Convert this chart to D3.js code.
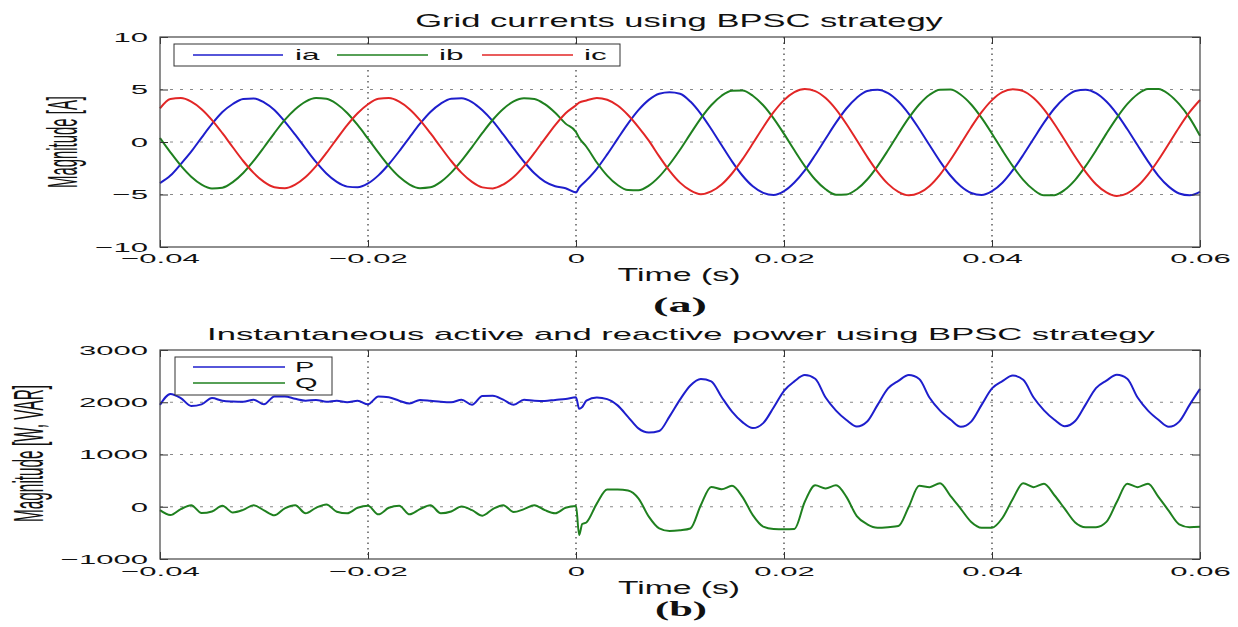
<!DOCTYPE html>
<html><head><meta charset="utf-8">
<script src="https://cdn.jsdelivr.net/npm/d3@7"></script>
<style>body{margin:0;background:#fff}</style>
</head><body><svg id="c" width="1238" height="627" style="background:#fff"></svg>
<script>
// ---- data ----
const time = d3.range(101).map(i => +(-0.04 + i * 0.001).toFixed(4));
const curExtraT = [0.0003];
const ia = [-3.92,-3.2,-2.1,-0.92,0.42,1.72,2.85,3.62,4.1,4.15,
 3.78,3.05,1.95,0.7,-0.62,-1.9,-3.0,-3.8,-4.25,-4.32,
 -3.95,-3.18,-2.12,-0.88,0.45,1.74,2.86,3.66,4.12,4.16,
 3.8,3.02,1.98,0.72,-0.6,-1.88,-2.98,-3.78,-4.22,-4.4,
 -4.8,
 -3.66,-2.55,-1.18,0.3,1.75,3.03,4.01,4.6,4.74,4.6,
 3.85,2.68,1.24,-0.31,-1.84,-3.19,-4.22,-4.84,-5.05,-4.68,
 -3.85,-2.7,-1.24,0.31,1.84,3.19,4.22,4.86,4.98,4.65,
 3.85,2.68,1.24,-0.31,-1.84,-3.19,-4.22,-4.86,-5.05,-4.68,
 -3.88,-2.68,-1.24,0.31,1.84,3.19,4.22,4.86,4.98,4.65,
 3.85,2.68,1.24,-0.31,-1.84,-3.22,-4.25,-4.9,-5.08,-4.75];
const iaExtra = [-4.35];
const ib = [0.38,-0.98,-2.25,-3.3,-4.05,-4.42,-4.35,-3.82,-2.95,-1.8,
 -0.5,0.85,2.1,3.12,3.85,4.18,4.12,3.62,2.76,1.62,
 0.32,-1.02,-2.28,-3.32,-4.05,-4.4,-4.32,-3.8,-2.92,-1.78,
 -0.48,0.86,2.12,3.15,3.86,4.16,4.1,3.6,2.78,1.75,
 0.95,
 -0.45,-1.95,-3.2,-4.1,-4.58,-4.6,-4.16,-3.3,-2.12,-0.74,
 0.77,2.25,3.5,4.41,4.89,4.9,4.41,3.5,2.25,0.77,
 -0.79,-2.29,-3.57,-4.5,-5.02,-5.0,-4.5,-3.57,-2.29,-0.79,
 0.79,2.29,3.57,4.5,4.98,4.99,4.5,3.57,2.29,0.79,
 -0.8,-2.3,-3.6,-4.55,-5.08,-5.06,-4.55,-3.6,-2.3,-0.8,
 0.8,2.3,3.6,4.55,5.05,5.05,4.55,3.6,2.3,0.6];
const ibExtra = [0.4];
const ic = [3.2,4.1,4.18,3.85,3.13,2.09,0.84,-0.5,-1.81,-2.94,
 -3.8,-4.3,-4.4,-4.05,-3.33,-2.29,-1.04,0.3,1.61,2.74,
 3.6,4.12,4.18,3.85,3.13,2.09,0.84,-0.5,-1.81,-2.94,
 -3.8,-4.32,-4.42,-4.05,-3.33,-2.29,-1.04,0.3,1.61,2.74,
 3.5,
 3.95,4.2,4.03,3.47,2.57,1.42,0.13,-1.37,-2.75,-3.87,
 -4.61,-4.98,-4.71,-4.05,-3.0,-1.66,-0.15,1.41,2.84,3.99,
 4.75,5.05,4.85,4.18,3.1,1.71,0.16,-1.41,-2.84,-3.99,
 -4.75,-5.08,-4.85,-4.18,-3.1,-1.71,-0.16,1.41,2.84,3.99,
 4.75,5.02,4.85,4.18,3.1,1.71,0.16,-1.41,-2.84,-4.02,
 -4.8,-5.15,-4.9,-4.2,-3.1,-1.71,-0.16,1.41,2.84,4.0];
const icExtra = [3.75];

const pqExtraT = [0.0003, 0.0006];
const P = [1950,2160,2080,1930,1960,2080,2030,2015,2010,2050,
 1960,2110,2110,2065,2030,2045,2010,2030,2000,2030,
 1960,2110,2095,2030,1975,2045,2030,2010,2000,2050,
 1950,2120,2125,2050,1950,2050,2030,2025,2045,2060,
 2095,
 2030,2090,2060,1940,1720,1500,1420,1450,1730,2050,
 2320,2445,2400,2100,1820,1620,1505,1600,1900,2220,
 2400,2520,2450,2090,1840,1660,1535,1630,1950,2265,
 2410,2520,2445,2085,1840,1670,1530,1630,1950,2265,
 2405,2510,2430,2090,1845,1665,1540,1640,1955,2270,
 2415,2525,2450,2090,1840,1665,1530,1630,1950,2255];
const pExtra = [1875, 1910];
const Q = [-65,-160,-45,30,-120,-90,20,-110,-60,30,
 -70,-165,-30,30,-125,-20,45,-95,-125,-20,
 20,-145,-20,20,-145,-45,30,-125,-90,5,
 -65,-170,-45,30,-100,-45,30,-65,-125,-20,
 15,
 -300,60,330,330,310,160,-190,-415,-465,-450,
 -415,30,380,335,400,190,-160,-380,-425,-430,
 -425,95,410,350,410,190,-180,-335,-400,-390,
 -370,0,400,375,450,210,-40,-290,-400,-400,
 -215,150,450,375,440,220,-40,-300,-390,-390,
 -290,90,440,375,440,190,-80,-335,-390,-385];
const qExtra = [-540, -330];

const xTicks = [-0.04, -0.02, 0, 0.02, 0.04, 0.06];
const curTicks = [-10, -5, 0, 5, 10];
const powTicks = [-1000, 0, 1000, 2000, 3000];
const curNames = ["ia", "ib", "ic"];
const powNames = ["P", "Q"];

// ---- styles ----
const SANS = '"Liberation Sans", Arial, Helvetica, sans-serif';
const SERIF = '"Liberation Serif", "Times New Roman", serif';
const BLUE = "#1e1ecc", GREEN = "#1f801f", RED = "#e22626";
const TSX = 2.3;

const svg = d3.select("#c");

function stext(parent, str, x, y, o) {
  const t = parent.append("text").text(str)
    .attr("font-size", o.size).attr("text-anchor", o.anchor || "middle")
    .attr("font-family", o.family || SANS).attr("font-weight", o.weight || "normal")
    .attr("fill", "#111");
  let sx = o.sx || 1;
  if (o.width) sx = o.width / t.node().getComputedTextLength();
  if (o.rotate) {
    t.attr("transform", `translate(${x},${y}) rotate(-90) scale(${sx},${o.sy || 1})`);
  } else {
    t.attr("transform", `translate(${x},${y}) scale(${sx},${o.sy || 1})`);
  }
  return t;
}

function panel(cfg) {
  const g = svg.append("g").attr("transform", `translate(${cfg.left},${cfg.top})`);
  const x = d3.scaleLinear().domain([-0.04, 0.06]).range([0, cfg.width]);
  const y = d3.scaleLinear().domain(cfg.yDomain).range([cfg.height, 0]);

  // grid
  g.append("g").selectAll("line").data(cfg.yTicks.slice(1, -1)).join("line")
    .attr("x1", 0).attr("x2", cfg.width).attr("y1", d => y(d)).attr("y2", d => y(d))
    .attr("stroke", "#888").attr("stroke-width", 1).attr("stroke-dasharray", "3,7");
  g.append("g").selectAll("line").data(xTicks.slice(1, -1)).join("line")
    .attr("y1", 0).attr("y2", cfg.height).attr("x1", d => x(d)).attr("x2", d => x(d))
    .attr("stroke", "#333").attr("stroke-width", 1.2).attr("stroke-dasharray", "1.5,4");

  // series
  const line = d3.line().x(d => x(d[0])).y(d => y(d[1])).curve(d3.curveMonotoneX);
  cfg.series.forEach(s => {
    const pts = time.map((t, i) => [t, s.values[i]])
      .concat(s.extraT.map((t, i) => [t, s.extra[i]]))
      .sort((a, b) => a[0] - b[0]);
    g.append("path").datum(pts).attr("fill", "none").attr("stroke", s.color)
      .attr("stroke-width", 2).attr("stroke-linejoin", "round").attr("d", line);
  });

  // axes
  const fmtX = d => d === 0 ? "0" : d3.format(".2f")(d);
  const styleAxis = sel => {
    sel.select(".domain").remove();
    sel.selectAll(".tick line").attr("stroke", "#333");
    sel.attr("font-family", null).attr("font-size", null);
    sel.selectAll("text").attr("font-family", SANS).attr("font-size", 13.5).attr("fill", "#111");
  };
  g.append("g").attr("transform", `translate(0,${cfg.height})`)
    .call(d3.axisBottom(x).tickValues(xTicks).tickFormat(fmtX).tickSize(-7).tickPadding(cfg.xPad))
    .call(styleAxis)
    .call(a => a.selectAll("text").attr("transform", `scale(${TSX},1)`));
  g.append("g")
    .call(d3.axisTop(x).tickValues(xTicks).tickFormat("").tickSize(-7))
    .call(styleAxis);
  g.append("g")
    .call(d3.axisLeft(y).tickValues(cfg.yTicks).tickFormat(d3.format("d")).tickSize(-8).tickPadding(12))
    .call(styleAxis)
    .call(a => a.selectAll("text").attr("x", -12 / TSX).attr("transform", `scale(${TSX},1)`));
  g.append("g").attr("transform", `translate(${cfg.width},0)`)
    .call(d3.axisRight(y).tickValues(cfg.yTicks).tickFormat("").tickSize(-8))
    .call(styleAxis);

  // box
  g.append("rect").attr("x", 0).attr("y", 0).attr("width", cfg.width).attr("height", cfg.height)
    .attr("fill", "none").attr("stroke", "#444").attr("stroke-width", 1.2);
  return g;
}

// Panel (a)
panel({
  left: 160, top: 37, width: 1040, height: 210, yDomain: [-10, 10], yTicks: curTicks, xPad: 6,
  series: [
    { values: ia, extraT: curExtraT, extra: iaExtra, color: BLUE },
    { values: ib, extraT: curExtraT, extra: ibExtra, color: GREEN },
    { values: ic, extraT: curExtraT, extra: icExtra, color: RED }
  ]
});
// Panel (b)
panel({
  left: 160, top: 350, width: 1040, height: 209, yDomain: [-1000, 3000], yTicks: powTicks, xPad: 7,
  series: [
    { values: P, extraT: pqExtraT, extra: pExtra, color: BLUE },
    { values: Q, extraT: pqExtraT, extra: qExtra, color: GREEN }
  ]
});

// legends
const lg1 = svg.append("g");
lg1.append("rect").attr("x", 174).attr("y", 44).attr("width", 446).attr("height", 22)
  .attr("fill", "#fff").attr("stroke", "#333").attr("stroke-width", 1);
const lg1Pos = [{ x1: 193, x2: 283, tx: 295, c: BLUE }, { x1: 337, x2: 428, tx: 439, c: GREEN }, { x1: 482, x2: 573, tx: 584, c: RED }];
curNames.forEach((n, i) => {
  const p = lg1Pos[i];
  lg1.append("line").attr("x1", p.x1).attr("x2", p.x2).attr("y1", 55).attr("y2", 55)
    .attr("stroke", p.c).attr("stroke-width", 1.3);
  stext(lg1, n, p.tx, 60, { size: 15, sx: 2.1, anchor: "start" });
});
const lg2 = svg.append("g");
lg2.append("rect").attr("x", 175).attr("y", 357).attr("width", 157).attr("height", 38)
  .attr("fill", "#fff").attr("stroke", "#333").attr("stroke-width", 1);
const lg2Pos = [{ y: 367, ty: 372, c: BLUE }, { y: 383, ty: 388, c: GREEN }];
powNames.forEach((n, i) => {
  const p = lg2Pos[i];
  lg2.append("line").attr("x1", 193).attr("x2", 285).attr("y1", p.y).attr("y2", p.y)
    .attr("stroke", p.c).attr("stroke-width", 1.3);
  stext(lg2, n, 295, p.ty, { size: 14.5, sx: 2.0, anchor: "start" });
});

// titles & labels
stext(svg, "Grid currents using BPSC strategy", 679, 27, { size: 18, width: 528 });
stext(svg, "Time (s)", 679, 281, { size: 18, width: 123 });
stext(svg, "(a)", 680, 312, { size: 22, width: 54, family: SERIF, weight: "bold" });
stext(svg, "Magnitude [A]", 77, 142, { size: 15, width: 92, rotate: true, sy: 2.8 });

stext(svg, "Instantaneous active and reactive power using BPSC strategy", 681, 340, { size: 17, width: 948 });
stext(svg, "Time (s)", 679, 594, { size: 18, width: 122 });
stext(svg, "(b)", 681, 616, { size: 22, width: 52, family: SERIF, weight: "bold" });
stext(svg, "Magnitude [W, VAR]", 43, 453.5, { size: 15, width: 137, rotate: true, sy: 2.8 });
</script>
</body></html>
